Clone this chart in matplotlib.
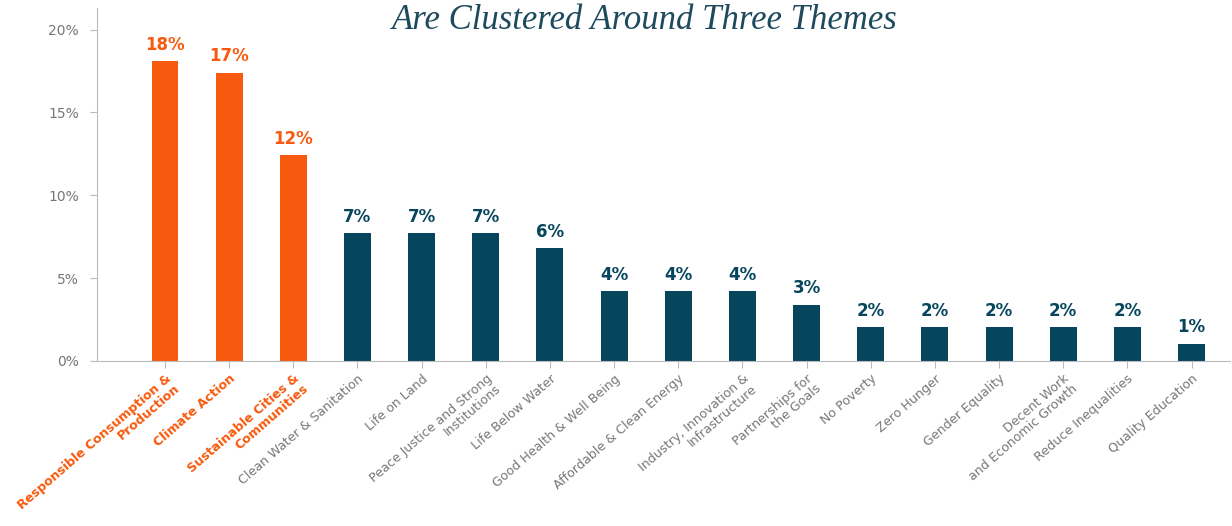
import matplotlib.pyplot as plt
from matplotlib.ticker import FuncFormatter

categories = [
    "Responsible Consumption &\nProduction",
    "Climate Action",
    "Sustainable Cities &\nCommunities",
    "Clean Water & Sanitation",
    "Life on Land",
    "Peace Justice and Strong\nInstitutions",
    "Life Below Water",
    "Good Health & Well Being",
    "Affordable & Clean Energy",
    "Industry, Innovation &\nInfrastructure",
    "Partnerships for\nthe Goals",
    "No Poverty",
    "Zero Hunger",
    "Gender Equality",
    "Decent Work\nand Economic Growth",
    "Reduce Inequalities",
    "Quality Education",
]
values = [18.1, 17.4, 12.4, 7.7, 7.7, 7.7, 6.8, 4.2, 4.2, 4.2, 3.4,
          2.05, 2.05, 2.05, 2.05, 2.05, 1.03]
labels = ["18%", "17%", "12%", "7%", "7%", "7%", "6%", "4%", "4%", "4%",
          "3%", "2%", "2%", "2%", "2%", "2%", "1%"]
n_highlight = 3

ORANGE = "#F75A0E"
TEAL = "#06465C"
GREY = "#777777"
AXIS = "#BBBBBB"

fig = plt.figure(figsize=(12.32, 5.26), dpi=100)
ax = fig.add_axes([97 / 1232, 1 - 361 / 526, 1133 / 1232, 353 / 526])

x = list(range(len(categories)))
colors = [ORANGE if i < n_highlight else TEAL for i in x]
ax.bar(x, values, width=0.42, color=colors, zorder=2)

# value labels above bars
for i, (v, lab) in enumerate(zip(values, labels)):
    ax.text(i, v + 0.45, lab, ha="center", va="bottom", fontsize=12,
            fontweight="bold", color=colors[i])

ax.set_xlim(-1.06, len(categories) - 0.4)
ax.set_ylim(0, 21.3)
ax.set_yticks([0, 5, 10, 15, 20])
ax.yaxis.set_major_formatter(FuncFormatter(lambda v, _: f"{v:.0f}%"))

for s in ["top", "right"]:
    ax.spines[s].set_visible(False)
ax.spines["left"].set_color(AXIS)
ax.spines["bottom"].set_color(AXIS)
ax.tick_params(axis="y", colors=AXIS, labelcolor=GREY, labelsize=10,
               length=5, pad=8)
ax.tick_params(axis="x", colors=AXIS, length=5, pad=3)

ax.set_xticks(x)
ax.set_xticklabels(categories, rotation=41, ha="right",
                   rotation_mode="anchor", fontsize=9.1, linespacing=1.0)
for i, t in enumerate(ax.get_xticklabels()):
    if i < n_highlight:
        t.set_color(ORANGE)
        t.set_fontweight("bold")
    else:
        t.set_color(GREY)

fig.text(0.523, 0.992, "Are Clustered Around Three Themes", ha="center",
         va="top", fontsize=25, style="italic", family="Liberation Serif",
         color="#1E4A5E")

fig.savefig("out.png", dpi=100)
